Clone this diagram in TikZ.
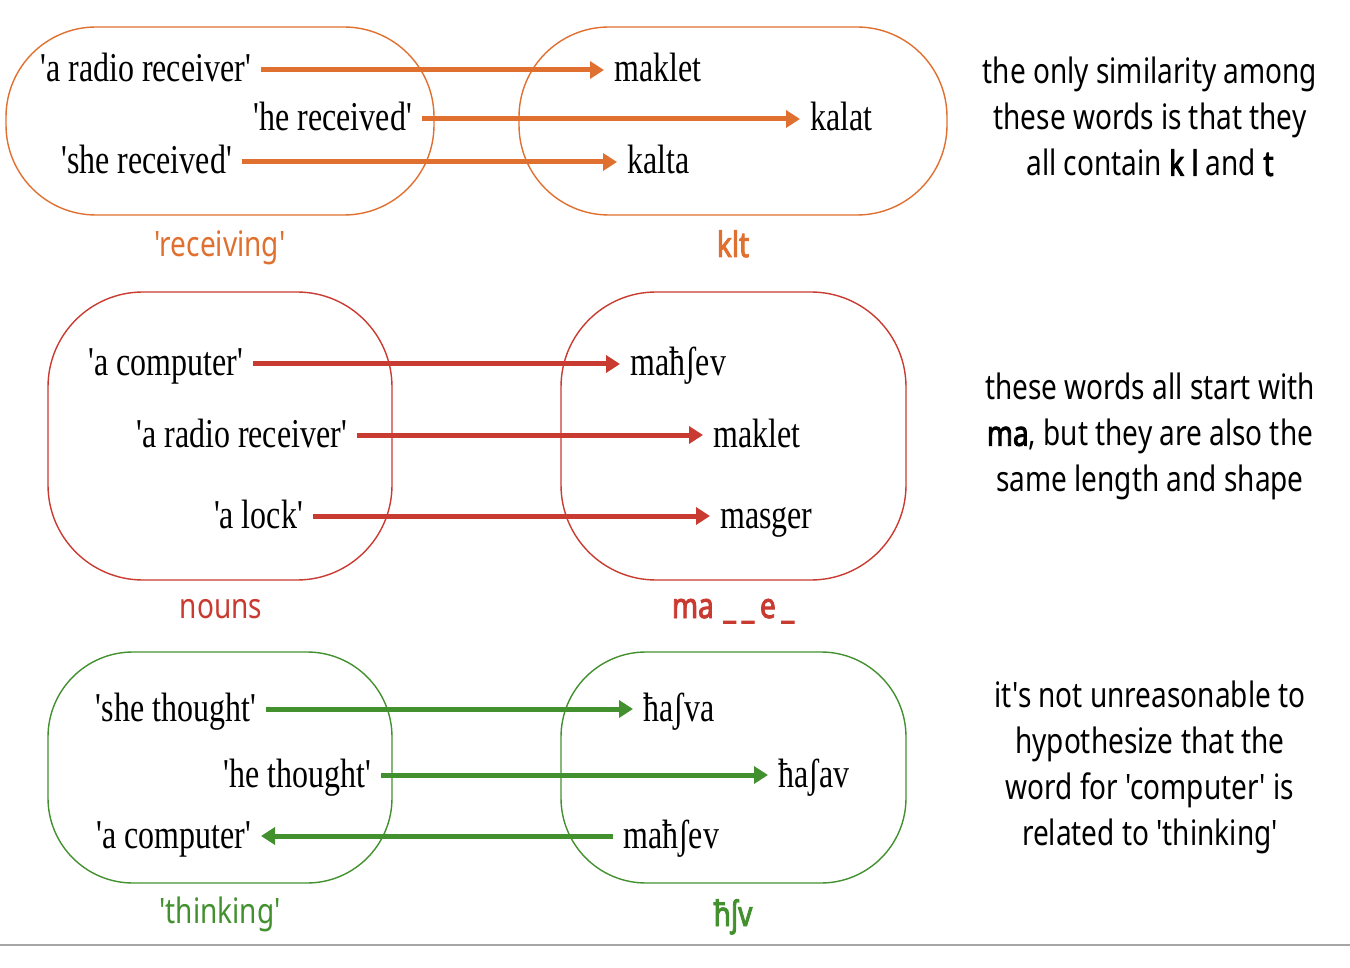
\documentclass[tikz,border=0pt]{standalone}
\usepackage{fontspec}
\newfontfamily\wordfont[FakeStretch=0.78,Ligatures=TeXOff]{Liberation Serif}
\newfontfamily\notefont[FakeStretch=0.8,Ligatures=TeXOff,BoldFont={Noto Sans},BoldFeatures={FakeBold=2.5}]{Noto Sans}
\usetikzlibrary{arrows.meta}
\definecolor{rcvorange}{HTML}{E0702F}
\definecolor{nounred}{HTML}{C93A30}
\definecolor{thinkgreen}{HTML}{43902F}

\begin{document}
\begin{tikzpicture}[x=1pt, y=-1pt,
    word/.style={font=\wordfont\fontsize{41}{48}\selectfont, inner xsep=10pt, inner ysep=0pt, text height=30pt, text depth=6pt},
    gloss/.style={font=\notefont\fontsize{35}{40}\selectfont, anchor=base, inner sep=0pt},
    note/.style={font=\notefont\fontsize{35}{46}\selectfont, align=center, anchor=north, inner sep=0pt},
    group/.style={line width=1.4pt, rounded corners=#1}, group/.default=88pt,
    link/.style={line width=5pt, -{Triangle[length=14pt,width=17pt]}}]

    \useasboundingbox (0,0) rectangle (1350,968);

    % 'receiving' and klt
    \draw[group=90pt, rcvorange] (6,27) rectangle (434,215);
    \draw[group=90pt, rcvorange] (519,27) rectangle (947,215);
    \node[word, anchor=east] (radio) at (261,70) {'a radio receiver'};
    \node[word, anchor=east] (hercv) at (422,119) {'he received'};
    \node[word, anchor=east] (shercv) at (242,162) {'she received'};
    \node[word, anchor=west] (maklet) at (604,70) {maklet};
    \node[word, anchor=west] (kalat) at (800,119) {kalat};
    \node[word, anchor=west] (kalta) at (617,162) {kalta};
    \draw[link, rcvorange] (radio) -- (maklet);
    \draw[link, rcvorange] (hercv) -- (kalat);
    \draw[link, rcvorange] (shercv) -- (kalta);
    \node[gloss, rcvorange] (rcvlbl) at (220,257) {'receiving'};
    \node[gloss, rcvorange] (kltlbl) at (733,257) {\bfseries klt};
    \node[note] (note1) at (1150,57) {the only similarity among\\these words is that they\\all contain \textbf{k l} and \textbf{t}};

    % nouns and ma__e_
    \draw[group=95pt, nounred] (48,292) rectangle (392,580);
    \draw[group=95pt, nounred] (561,292) rectangle (906,580);
    \node[word, anchor=east] (computer) at (253,364) {'a computer'};
    \node[word, anchor=east] (radiob) at (357,435) {'a radio receiver'};
    \node[word, anchor=east] (lock) at (313,516) {'a lock'};
    \node[word, anchor=west] (mahshev) at (620,364) {maħʃev};
    \node[word, anchor=west] (makletb) at (703,435) {maklet};
    \node[word, anchor=west] (masger) at (710,516) {masger};
    \draw[link, nounred] (computer) -- (mahshev);
    \draw[link, nounred] (radiob) -- (makletb);
    \draw[link, nounred] (lock) -- (masger);
    \node[gloss, nounred] (nounlbl) at (221,618) {nouns};
    \node[gloss, nounred] (patlbl) at (733,618) {\bfseries ma\;\_\,\_\,e\,\_};
    \node[note] (note2) at (1150,373) {these words all start with\\\textbf{ma}, but they are also the\\same length and shape};

    % 'thinking' and hshv
    \draw[group=85pt, thinkgreen] (48,652) rectangle (392,883);
    \draw[group=85pt, thinkgreen] (561,652) rectangle (906,883);
    \node[word, anchor=east] (shethought) at (266,709) {'she thought'};
    \node[word, anchor=east] (hethought) at (381,775) {'he thought'};
    \node[word, anchor=east] (computerb) at (261,836) {'a computer'};
    \node[word, anchor=west] (hashva) at (633,709) {ħaʃva};
    \node[word, anchor=west] (hashav) at (768,775) {ħaʃav};
    \node[word, anchor=west] (mahshevb) at (613,836) {maħʃev};
    \draw[link, thinkgreen] (shethought) -- (hashva);
    \draw[link, thinkgreen] (hethought) -- (hashav);
    \draw[link, thinkgreen] (mahshevb) -- (computerb);
    \node[gloss, thinkgreen] (thinklbl) at (220,923) {'thinking'};
    \node[gloss, thinkgreen] (rootlbl) at (733,926) {\bfseries ħʃv};
    \node[note] (note3) at (1150,681) {it's not unreasonable to\\hypothesize that the\\word for 'computer' is\\related to 'thinking'};

    % rule at the foot
    \draw[gray!70, line width=2pt] (0,945) -- (1350,945);

\end{tikzpicture}
\end{document}
